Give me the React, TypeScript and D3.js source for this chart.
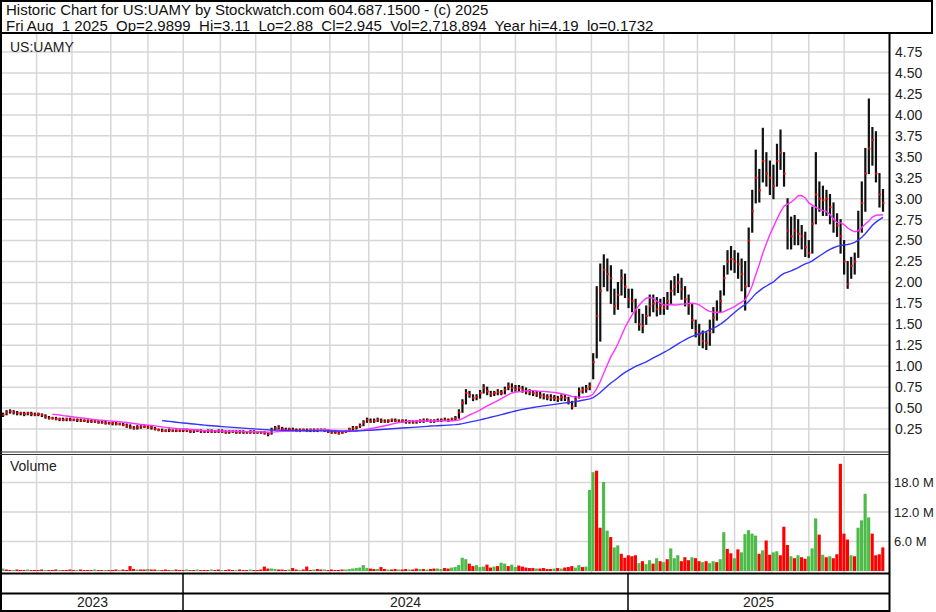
import React from 'react';
import * as d3 from 'd3';

// one sample every 2 trading days, Aug 2023 .. Aug 1 2025
const closes = [
  0.42, 0.45, 0.46, 0.45, 0.44, 0.44, 0.43, 0.44, 0.43, 0.42,
  0.43, 0.42, 0.40, 0.38, 0.38, 0.37, 0.37, 0.36, 0.37, 0.36,
  0.36, 0.36, 0.35, 0.35, 0.35, 0.34, 0.34, 0.33, 0.33, 0.32,
  0.32, 0.32, 0.31, 0.31, 0.30, 0.29, 0.27, 0.26, 0.27, 0.28,
  0.28, 0.27, 0.27, 0.25, 0.24, 0.23, 0.23, 0.24, 0.23, 0.23,
  0.23, 0.24, 0.23, 0.22, 0.23, 0.23, 0.22, 0.22, 0.23, 0.22,
  0.22, 0.23, 0.22, 0.21, 0.22, 0.22, 0.21, 0.22, 0.21, 0.21,
  0.22, 0.21, 0.21, 0.21, 0.20, 0.19, 0.24, 0.26, 0.27, 0.25,
  0.24, 0.25, 0.24, 0.23, 0.24, 0.24, 0.23, 0.24, 0.23, 0.24,
  0.24, 0.23, 0.22, 0.21, 0.21, 0.20, 0.21, 0.22, 0.25, 0.26,
  0.27, 0.29, 0.33, 0.36, 0.34, 0.35, 0.36, 0.35, 0.34, 0.35,
  0.36, 0.35, 0.34, 0.35, 0.34, 0.34, 0.33, 0.34, 0.35, 0.35,
  0.36, 0.34, 0.35, 0.35, 0.36, 0.36, 0.35, 0.37, 0.38, 0.45,
  0.56, 0.68, 0.66, 0.62, 0.63, 0.68, 0.74, 0.70, 0.67, 0.68,
  0.69, 0.68, 0.72, 0.76, 0.74, 0.73, 0.74, 0.72, 0.70, 0.69,
  0.68, 0.67, 0.65, 0.64, 0.63, 0.62, 0.62, 0.61, 0.63, 0.62,
  0.58, 0.52, 0.60, 0.70, 0.72, 0.73, 0.76, 1.05, 1.60, 1.90,
  2.15, 2.10, 2.05, 1.72, 1.85, 2.05, 1.95, 1.80, 1.78, 1.65,
  1.50, 1.48, 1.60, 1.72, 1.75, 1.68, 1.72, 1.70, 1.78, 1.90,
  1.95, 2.00, 1.92, 1.80, 1.72, 1.55, 1.42, 1.38, 1.30, 1.28,
  1.40, 1.58, 1.65, 1.78, 2.05, 2.25, 2.28, 2.25, 2.22, 2.10,
  1.95, 2.50, 2.85, 3.25, 3.10, 3.45, 3.30, 3.25, 3.15, 3.45,
  3.55, 3.30, 2.62, 2.55, 2.62, 2.58, 2.55, 2.42, 2.35, 2.70,
  3.05, 3.00, 2.98, 3.00, 2.90, 2.75, 2.68, 2.55, 2.25, 1.98,
  2.20, 2.25, 2.62, 2.95, 3.30, 3.60, 3.70, 3.30, 3.05, 2.95,
];

const highs = [
  0.44, 0.47, 0.48, 0.47, 0.46, 0.45, 0.45, 0.45, 0.45, 0.44,
  0.44, 0.43, 0.42, 0.40, 0.39, 0.39, 0.38, 0.38, 0.38, 0.38,
  0.37, 0.37, 0.37, 0.36, 0.36, 0.36, 0.35, 0.35, 0.34, 0.34,
  0.33, 0.33, 0.33, 0.32, 0.32, 0.31, 0.30, 0.28, 0.29, 0.29,
  0.29, 0.29, 0.28, 0.27, 0.25, 0.25, 0.24, 0.25, 0.24, 0.24,
  0.24, 0.25, 0.25, 0.24, 0.24, 0.24, 0.24, 0.23, 0.24, 0.24,
  0.23, 0.24, 0.24, 0.23, 0.23, 0.23, 0.23, 0.23, 0.23, 0.22,
  0.23, 0.23, 0.22, 0.22, 0.22, 0.21, 0.26, 0.28, 0.29, 0.27,
  0.26, 0.26, 0.26, 0.25, 0.25, 0.25, 0.25, 0.25, 0.25, 0.25,
  0.25, 0.25, 0.24, 0.23, 0.22, 0.22, 0.22, 0.23, 0.26, 0.28,
  0.28, 0.31, 0.35, 0.38, 0.37, 0.37, 0.38, 0.37, 0.36, 0.36,
  0.37, 0.37, 0.36, 0.36, 0.36, 0.35, 0.35, 0.35, 0.36, 0.37,
  0.37, 0.36, 0.36, 0.37, 0.37, 0.38, 0.37, 0.38, 0.40, 0.48,
  0.60, 0.72, 0.70, 0.66, 0.66, 0.71, 0.78, 0.75, 0.70, 0.70,
  0.72, 0.71, 0.75, 0.80, 0.79, 0.77, 0.77, 0.76, 0.74, 0.72,
  0.71, 0.70, 0.69, 0.67, 0.66, 0.66, 0.65, 0.64, 0.66, 0.66,
  0.63, 0.58, 0.64, 0.74, 0.75, 0.77, 0.80, 1.15, 1.95, 2.22,
  2.33, 2.28, 2.20, 1.92, 2.00, 2.15, 2.10, 1.92, 1.92, 1.80,
  1.68, 1.62, 1.72, 1.85, 1.85, 1.82, 1.80, 1.82, 1.88, 2.02,
  2.07, 2.10, 2.05, 1.95, 1.85, 1.75, 1.55, 1.50, 1.42, 1.40,
  1.55, 1.70, 1.78, 1.90, 2.20, 2.38, 2.43, 2.38, 2.35, 2.28,
  2.25, 2.65, 3.10, 3.58, 3.35, 3.84, 3.55, 3.45, 3.40, 3.65,
  3.82, 3.55, 3.00, 2.78, 2.80, 2.75, 2.68, 2.60, 2.50, 2.90,
  3.55, 3.20, 3.15, 3.10, 3.05, 2.95, 2.82, 2.75, 2.50, 2.25,
  2.30, 2.35, 2.85, 3.20, 3.60, 4.19, 3.85, 3.80, 3.30, 3.11,
];

const lows = [
  0.40, 0.42, 0.44, 0.43, 0.42, 0.42, 0.41, 0.42, 0.41, 0.41,
  0.41, 0.40, 0.38, 0.37, 0.37, 0.36, 0.35, 0.35, 0.35, 0.35,
  0.35, 0.34, 0.34, 0.34, 0.33, 0.33, 0.33, 0.32, 0.32, 0.31,
  0.31, 0.30, 0.30, 0.30, 0.29, 0.27, 0.26, 0.25, 0.25, 0.26,
  0.27, 0.26, 0.25, 0.24, 0.23, 0.22, 0.22, 0.22, 0.22, 0.22,
  0.22, 0.22, 0.22, 0.21, 0.21, 0.22, 0.21, 0.21, 0.21, 0.21,
  0.21, 0.21, 0.21, 0.20, 0.20, 0.21, 0.20, 0.20, 0.20, 0.20,
  0.20, 0.20, 0.20, 0.20, 0.19, 0.17, 0.19, 0.24, 0.25, 0.24,
  0.23, 0.23, 0.23, 0.22, 0.22, 0.23, 0.22, 0.22, 0.22, 0.22,
  0.23, 0.22, 0.21, 0.20, 0.20, 0.19, 0.20, 0.21, 0.22, 0.24,
  0.25, 0.27, 0.29, 0.33, 0.33, 0.33, 0.34, 0.33, 0.33, 0.33,
  0.34, 0.34, 0.33, 0.33, 0.32, 0.32, 0.32, 0.32, 0.33, 0.33,
  0.34, 0.33, 0.33, 0.34, 0.34, 0.35, 0.34, 0.35, 0.36, 0.38,
  0.45, 0.55, 0.63, 0.59, 0.60, 0.62, 0.68, 0.66, 0.64, 0.65,
  0.66, 0.66, 0.67, 0.72, 0.70, 0.70, 0.71, 0.69, 0.67, 0.66,
  0.65, 0.64, 0.62, 0.61, 0.60, 0.59, 0.59, 0.58, 0.59, 0.59,
  0.55, 0.49, 0.52, 0.62, 0.68, 0.69, 0.72, 0.85, 1.10, 1.30,
  1.95, 1.90, 1.75, 1.62, 1.68, 1.85, 1.82, 1.70, 1.65, 1.52,
  1.43, 1.40, 1.50, 1.60, 1.65, 1.60, 1.62, 1.62, 1.68, 1.75,
  1.85, 1.88, 1.80, 1.72, 1.62, 1.45, 1.35, 1.25, 1.22, 1.20,
  1.25, 1.40, 1.55, 1.65, 1.85, 2.10, 2.15, 2.12, 2.05, 1.90,
  1.67, 1.95, 2.60, 2.95, 2.96, 3.20, 3.15, 3.05, 3.00, 3.15,
  3.35, 3.15, 2.40, 2.40, 2.45, 2.45, 2.40, 2.31, 2.30, 2.35,
  2.70, 2.85, 2.80, 2.80, 2.70, 2.60, 2.55, 2.35, 2.10, 1.93,
  2.05, 2.10, 2.30, 2.60, 2.85, 3.30, 3.40, 3.20, 2.90, 2.85,
];

// volume, millions of shares
const volumes = [
  0.5, 0.3, 0.2, 0.2, 0.3, 0.2, 0.2, 0.3, 0.2, 0.2,
  0.2, 0.3, 0.2, 0.2, 0.2, 0.3, 0.2, 0.2, 0.2, 0.3,
  0.2, 0.2, 0.3, 0.2, 0.2, 0.2, 0.3, 0.2, 0.2, 0.2,
  0.2, 0.2, 0.3, 0.2, 0.3, 0.2, 1.0, 0.4, 0.3, 0.3,
  0.3, 0.4, 0.3, 0.3, 0.2, 0.2, 0.3, 0.2, 0.2, 0.3,
  0.2, 0.2, 0.3, 0.2, 0.2, 0.3, 0.2, 0.2, 0.2, 0.3,
  0.2, 0.3, 0.2, 0.2, 0.3, 0.2, 0.2, 0.3, 0.2, 0.2,
  0.3, 0.2, 0.2, 0.3, 0.9, 0.5, 0.5, 0.4, 0.3, 0.3,
  0.2, 0.3, 0.6, 0.3, 0.2, 0.3, 0.9, 0.2, 0.3, 0.4,
  0.3, 0.3, 0.2, 0.3, 0.2, 0.2, 0.3, 0.3, 0.4, 0.5,
  0.6, 0.7, 1.2, 0.6, 0.5, 0.4, 0.4, 0.8, 0.4, 0.3,
  0.3, 0.4, 0.3, 0.3, 0.4, 0.3, 0.3, 0.5, 0.4, 0.4,
  0.3, 0.4, 0.5, 0.5, 0.4, 0.6, 0.5, 0.7, 0.8, 1.2,
  2.7, 2.4, 1.5, 1.0, 1.2, 0.8, 0.9, 1.3, 0.7, 0.9,
  1.0, 1.7, 1.5, 1.0, 1.3, 0.8, 1.1, 0.9, 0.7, 0.6,
  0.6, 0.5, 0.5, 0.6, 0.4, 0.4, 0.5, 0.6, 0.5, 0.7,
  0.8, 1.0, 0.7, 1.2, 0.8, 0.9, 16.5, 20.1, 20.4, 8.8,
  18.1, 8.2, 6.9, 4.8, 5.2, 3.5, 2.7, 3.2, 3.0, 3.2,
  1.6, 2.0, 1.4, 2.2, 1.5, 2.6, 2.0, 1.8, 2.4, 4.6,
  2.6, 3.2, 2.0, 2.8, 2.2, 2.8, 2.6, 2.0, 1.8, 2.0,
  1.6, 2.0, 1.8, 2.4, 7.9, 4.5, 3.6, 2.6, 4.4, 3.8,
  7.5, 8.3, 7.6, 7.2, 3.5, 4.2, 6.2, 3.3, 3.8, 4.0,
  3.2, 9.0, 5.3, 3.0, 2.6, 3.2, 2.8, 2.5, 3.0, 4.6,
  10.7, 7.4, 3.3, 2.8, 3.0, 2.6, 3.4, 21.8, 7.6, 6.4,
  3.2, 3.0, 8.8, 10.3, 15.7, 10.9, 7.6, 3.2, 3.4, 4.8,
];

// g = up day, r = down day
const volDir =
  'grrgrrrgrr' + 'rrgrrrgrrr' + 'rgrrrrgrrg' + 'rrrgrrrrgr' + 'rgrrgrrrgr' +
  'rrgrrgrrrg' + 'rrgrrrgrrr' + 'grrrrrggrr' + 'rgrrgrrrgr' + 'rgrrrrrggg' +
  'ggggrrgrrg' + 'rrgrrgrrgr' + 'grrggrrggg' + 'ggrrgggrrg' + 'rggrggrrrr' +
  'rgrrrrgrgr' + 'rrggrgggrr' + 'ggrggrrrrr' + 'grggrgrgrg' + 'ggrrrgrrgr' +
  'ggrggrrgrg' + 'ggggrgrrgg' + 'rrrgrgrrgg' + 'grgrgrrrrr' + 'grggggrrrr';

const priceTicks = [0.25, 0.5, 0.75, 1, 1.25, 1.5, 1.75, 2, 2.25, 2.5, 2.75, 3, 3.25, 3.5, 3.75, 4, 4.25, 4.5, 4.75];
const volTicks = [6, 12, 18];
// trading-day index of the first session of each month
const monthStarts = [19, 39, 61, 82, 102, 123, 143, 163, 185, 207, 226, 248, 270, 290, 313, 333, 354, 374, 393, 414, 435, 456, 476];
const yearLabels = ['2023', '2024', '2025'];
const yearStarts = [0, 102, 354];

const titleLine1 = 'Historic Chart for US:UAMY by Stockwatch.com 604.687.1500 - (c) 2025';
const titleLine2 = 'Fri Aug  1 2025  Op=2.9899  Hi=3.11  Lo=2.88  Cl=2.945  Vol=2,718,894  Year hi=4.19  lo=0.1732';

const W = 936;
const H = 612;
const left = 2;
const right = 889;
const priceTop = 34;
const priceBottom = 451;
const volTop = 456;
const volBottom = 573;
const font = 'Arial, "Liberation Sans", sans-serif';

function movingAvg(vals: number[], n: number) {
  return vals.map((_, i) => (i < n - 1 ? null : d3.mean(vals.slice(i - n + 1, i + 1)) as number));
}

export default function App() {
  const lastDay = (closes.length - 1) * 2;
  const x = d3.scaleLinear().domain([0, lastDay]).range([3, 883]);
  const step = x(2) - x(0);
  const y = d3.scaleLinear().domain([0, 4.75]).range([450, 52.1]);
  const vy = d3.scaleLinear().domain([0, 18]).range([571, 482.5]);

  const maShort = movingAvg(closes, 15);
  const maLong = movingAvg(closes, 46);
  const maLine = d3.line<number | null>()
    .defined((d) => d != null)
    .x((_, i) => x(i * 2))
    .y((d) => y(d as number));

  const yearEdges = yearStarts.map((s) => (s === 0 ? left : Math.round(x(s) - 0.5)));

  return (
    <svg width={W} height={H} style={{ position: 'absolute', left: 0, top: 0, background: '#fff' }} fontFamily={font}>
      {/* grid */}
      <g stroke="#d6d6d6" strokeWidth={1.5}>
        {priceTicks.map((t) => (
          <line key={'hp' + t} x1={left} x2={right} y1={y(t)} y2={y(t)} />
        ))}
        {monthStarts.map((m) => (
          <line key={'vp' + m} x1={x(m)} x2={x(m)} y1={priceTop} y2={priceBottom} />
        ))}
        {volTicks.map((t) => (
          <line key={'hv' + t} x1={left} x2={right} y1={vy(t)} y2={vy(t)} />
        ))}
        {monthStarts.map((m) => (
          <line key={'vv' + m} x1={x(m)} x2={x(m)} y1={volTop} y2={volBottom} />
        ))}
      </g>

      {/* OHLC bars */}
      <g>
        {closes.map((c, i) => (
          <g key={'b' + i}>
            <line x1={x(i * 2)} x2={x(i * 2)} y1={y(highs[i]) - 0.5} y2={y(lows[i]) + 0.5} stroke="#111" strokeWidth={2.2} />
            <rect x={x(i * 2) - 0.5} y={y(c) - 1} width={2} height={2} fill="#ff0000" />
          </g>
        ))}
      </g>

      {/* moving averages */}
      <path d={maLine(maShort) || ''} fill="none" stroke="#ff33ff" strokeWidth={1.4} />
      <path d={maLine(maLong) || ''} fill="none" stroke="#3333ff" strokeWidth={1.4} />

      {/* volume */}
      <g>
        {volumes.map((v, i) => (
          <rect
            key={'v' + i}
            x={x(i * 2) - step / 2}
            y={vy(v)}
            width={step - 0.4}
            height={vy(0) - vy(v)}
            fill={volDir[i] === 'g' ? '#4cbb47' : '#ff0000'}
          />
        ))}
      </g>

      {/* frame */}
      <g stroke="#000" fill="none">
        <rect x={1} y={1} width={931} height={32} strokeWidth={2} />
        <line x1={1} x2={1} y1={0} y2={H} strokeWidth={2} />
        <line x1={right + 0.5} x2={right + 0.5} y1={33} y2={H} strokeWidth={2} />
        <line x1={0} x2={right} y1={452} y2={452} strokeWidth={1.2} stroke="#333" />
        <line x1={0} x2={right} y1={454.5} y2={454.5} strokeWidth={1.2} stroke="#333" />
        <line x1={0} x2={right} y1={573.5} y2={573.5} strokeWidth={2} />
        <line x1={0} x2={right} y1={593.5} y2={593.5} strokeWidth={2} />
        <line x1={0} x2={right} y1={611} y2={611} strokeWidth={2} />
        {yearEdges.slice(1).map((e) => (
          <line key={'ye' + e} x1={e} x2={e} y1={573} y2={611} strokeWidth={1.5} />
        ))}
      </g>

      {/* texts */}
      <g fill="#111" fontSize={15}>
        <text x={6} y={15}>{titleLine1}</text>
        <text x={6} y={30.5} xmlSpace="preserve">{titleLine2}</text>
      </g>
      <text x={10} y={52} fontSize={14} fill="#222">US:UAMY</text>
      <text x={10} y={471} fontSize={14} fill="#222">Volume</text>
      <g fontSize={14} fill="#222">
        {priceTicks.map((t) => (
          <text key={'pl' + t} x={895} y={y(t)} dy="0.35em">{t.toFixed(2)}</text>
        ))}
        {yearLabels.map((l, k) => {
          const a = yearEdges[k];
          const b = k + 1 < yearEdges.length ? yearEdges[k + 1] : right;
          return (
            <text key={l} x={(a + b) / 2} y={607} textAnchor="middle">{l}</text>
          );
        })}
      </g>
      <g fontSize={13} fill="#222">
        {volTicks.map((t) => (
          <text key={'vl' + t} x={894} y={vy(t)} dy="0.35em">{t.toFixed(1) + ' M'}</text>
        ))}
      </g>
    </svg>
  );
}
